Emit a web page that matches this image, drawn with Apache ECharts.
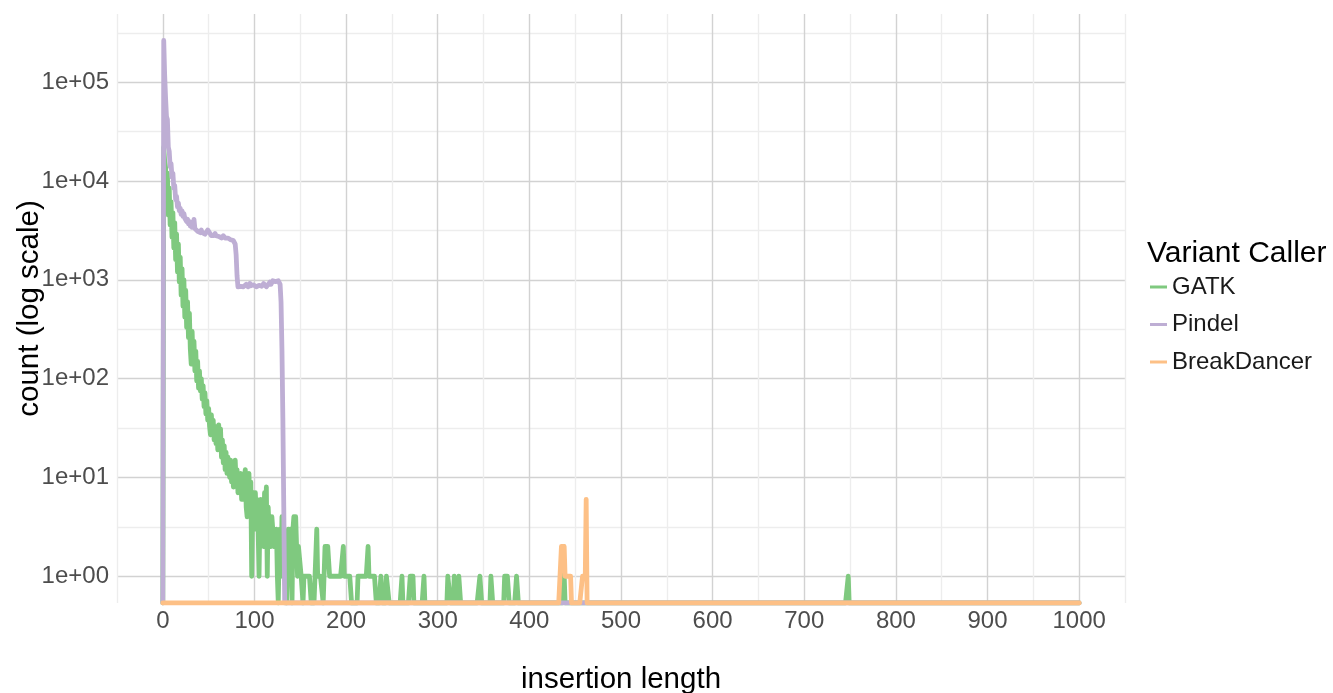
<!DOCTYPE html>
<html>
<head>
<meta charset="utf-8">
<title>insertion length</title>
<script src="https://cdn.jsdelivr.net/npm/echarts@6/dist/echarts.min.js"></script>
<style>
  html, body { margin: 0; padding: 0; background: #ffffff; }
  #chart { width: 1333px; height: 693px; }
</style>
</head>
<body>
<div id="chart"></div>
<script>
// ---- data ----
const seriesNames = ['GATK', 'Pindel', 'BreakDancer'];
const seriesColors = ['#7FC97F', '#BEAED4', '#FDC086'];
const xLast = 1000; // every series runs from length 0 to 1000

// GATK counts for insertion length 1..152
const gatkHead = [
  22000, 16000, 14000, 6000, 12000, 4500, 8500, 3600, 6200, 2700,
  4800, 2100, 3800, 1600, 2900, 1200, 2300, 950, 1700, 700,
  1300, 540, 1000, 420, 780, 330, 600, 260, 460, 200,
  140, 300, 150, 240, 120, 190, 95, 150, 80, 120,
  75, 100, 62, 85, 52, 72, 44, 60, 38, 50,
  33, 27, 43, 28, 38, 24, 33, 22, 30, 19,
  34, 20, 31, 16, 24, 14, 21, 12, 18, 11,
  16, 12, 10, 15, 9, 13, 8, 12, 15, 9,
  12, 7, 11, 7, 11, 6, 10, 6, 10, 12,
  5, 4, 8, 11, 5, 9, 1, 5, 7, 3,
  7, 4, 6, 3, 1, 4, 6, 3, 5, 2,
  7, 4, 8, 1, 5, 3, 4, 2, 4, 3,
  2, 3, 2, 3, 1, 0, 2, 3, 1, 4,
  3, 2, 1, 1, 0, 0, 3, 1, 3, 2,
  0, 3, 4, 2, 4, 2, 1, 2, 2, 2,
  1, 1
];
// GATK further out: [length, count], all other lengths are 0
const gatkTail = [
  [154, 1], [155, 1], [156, 1], [157, 1], [158, 1], [159, 1], [160, 1], [161, 1],
  [168, 3], [169, 1], [170, 1], [171, 1], [172, 1], [173, 1], [174, 1],
  [177, 2], [178, 2], [179, 2], [180, 2], [181, 2],
  [182, 1], [183, 1], [184, 1], [185, 1], [186, 1], [187, 1], [188, 1], [189, 1],
  [190, 1], [191, 1], [192, 1], [193, 1], [194, 1], [195, 1], [196, 1],
  [197, 2], [198, 1], [199, 1], [200, 1], [201, 1], [202, 1], [203, 1], [204, 1], [205, 1],
  [213, 1], [214, 1], [215, 1], [216, 1], [217, 1], [218, 1], [219, 1], [220, 1],
  [221, 1], [222, 1], [223, 1], [224, 2], [225, 1], [226, 1], [227, 1], [228, 1],
  [229, 1], [230, 1], [231, 1], [232, 1],
  [238, 1], [239, 1], [244, 1], [245, 1], [246, 1],
  [261, 1], [270, 1], [271, 1], [272, 1], [273, 1], [285, 1],
  [311, 1], [312, 1], [313, 1], [318, 1], [323, 1], [324, 1],
  [346, 1], [347, 1], [358, 1], [359, 1],
  [373, 1], [374, 1], [375, 1], [376, 1], [377, 1], [386, 1], [387, 1],
  [437, 2], [438, 2], [748, 1]
];

// Pindel counts for insertion length 1..133, zero after that
const pindelHead = [
  265000, 120000, 70000, 45000, 42000, 22000, 20000, 14000, 15000, 11000,
  12000, 8500, 9000, 6500, 7000, 5500, 6000, 5000, 5300, 4600,
  5000, 4400, 4700, 4200, 4300, 3900, 4100, 3700, 3900, 3500,
  3700, 3400, 3600, 4100, 3300, 3200, 3300, 3100, 3200, 3000,
  3000, 3200, 3000, 2900, 3100, 2900, 3000, 2950, 3200, 3300,
  3000, 2900, 2800, 2900, 2750, 2800, 2950, 2800, 2700, 2900,
  2750, 2700, 2800, 2650, 2700, 2800, 2750, 2650, 2700, 2600,
  2650, 2700, 2600, 2550, 2650, 2600, 2500, 2450, 2300, 1800,
  1100, 850, 820, 880, 860, 840, 870, 850, 880, 860,
  900, 870, 850, 880, 920, 870, 840, 860, 890, 900,
  870, 850, 830, 870, 880, 900, 870, 860, 890, 920,
  900, 880, 850, 870, 900, 920, 950, 900, 930, 980,
  950, 1000, 960, 990, 950, 980, 960, 900, 600, 200,
  40, 5, 0
];

// BreakDancer: [length, count], all other lengths are 0
const breakDancerPoints = [
  [435, 2], [436, 2], [437, 2], [438, 2],
  [439, 1], [440, 1], [441, 1], [442, 1], [443, 1], [444, 1], [445, 1],
  [458, 1], [459, 1], [460, 1], [461, 1], [462, 6]
];

// axis labels
const xTickValues = [0, 100, 200, 300, 400, 500, 600, 700, 800, 900, 1000];
const yDecades = [0, 1, 2, 3, 4, 5];
const yTickLabels = ['1e+00', '1e+01', '1e+02', '1e+03', '1e+04', '1e+05'];

// panel range in log10 units (ggplot adds 5% on each side)
const yMin = -0.271;
const yMax = 5.691;

function buildCounts(head, points) {
  const counts = new Array(xLast + 1).fill(0);
  head.forEach((c, i) => { counts[i + 1] = c; });
  points.forEach(p => { counts[p[0]] = p[1]; });
  return counts;
}

// zero counts go to -Inf on a log axis, ggplot draws them on the panel edge
function toLogPoints(counts) {
  return counts.map((c, x) => [x, c > 0 ? Math.log10(c) : yMin]);
}

const seriesCounts = [
  buildCounts(gatkHead, gatkTail),
  buildCounts(pindelHead, []),
  buildCounts([], breakDancerPoints)
];

const font = '"Liberation Sans", Arial, Helvetica, sans-serif';

const chart = echarts.init(document.getElementById('chart'));

const option = {
  animation: false,
  backgroundColor: '#ffffff',
  textStyle: { fontFamily: font },
  title: {
    text: 'Variant Caller',
    left: 1147,
    top: 238.5,
    padding: 0,
    textStyle: { fontSize: 30, fontWeight: 'normal', color: '#000000', fontFamily: font }
  },
  legend: {
    orient: 'vertical',
    left: 1150,
    top: 275,
    padding: 0,
    itemGap: 13.5,
    itemWidth: 17,
    itemHeight: 3,
    icon: 'rect',
    data: seriesNames,
    textStyle: { fontSize: 24, color: '#1a1a1a', lineHeight: 24, fontFamily: font }
  },
  grid: {
    left: 117,
    right: 208,
    top: 14,
    bottom: 90,
    containLabel: false,
    outerBoundsMode: 'none'
  },
  xAxis: {
    type: 'value',
    min: -50,
    max: 1050,
    interval: 50,
    name: 'insertion length',
    nameLocation: 'middle',
    nameGap: 62,
    nameMoveOverlap: false,
    nameTextStyle: { fontSize: 29.5, color: '#000000', fontFamily: font },
    axisLine: { show: false },
    axisTick: { show: false },
    axisLabel: {
      margin: 6,
      fontSize: 24,
      color: '#4d4d4d',
      fontFamily: font,
      formatter: function (v) {
        return xTickValues.indexOf(v) >= 0 ? String(v) : '';
      }
    },
    splitLine: {
      show: true,
      // ticks start at -50: minor, major, minor, ...
      lineStyle: { color: ['#ededed', '#d2d2d2'], width: 1.4 }
    }
  },
  yAxis: {
    type: 'value',
    min: yMin,
    max: yMax,
    splitNumber: 12,
    name: 'count (log scale)',
    nameLocation: 'middle',
    nameGap: 72,
    nameMoveOverlap: false,
    nameTextStyle: { fontSize: 29.5, color: '#000000', fontFamily: font },
    axisLine: { show: false },
    axisTick: { show: false },
    axisLabel: {
      margin: 8,
      fontSize: 24,
      color: '#4d4d4d',
      fontFamily: font,
      formatter: function (v) {
        for (let i = 0; i < yDecades.length; i++) {
          if (Math.abs(v - yDecades[i]) < 1e-6) return yTickLabels[i];
        }
        return '';
      }
    },
    splitLine: {
      show: true,
      showMinLine: false,
      showMaxLine: false,
      // first drawn line is 1e+00, then half decades alternate
      lineStyle: { color: ['#d2d2d2', '#ededed'], width: 1.4 }
    }
  },
  series: seriesNames.map((name, i) => ({
    name: name,
    type: 'line',
    data: toLogPoints(seriesCounts[i]),
    showSymbol: false,
    symbol: 'none',
    silent: true,
    clip: true,
    color: seriesColors[i],
    lineStyle: { width: 4.8, color: seriesColors[i], cap: 'round', join: 'round' },
    z: 2 + i
  }))
};

chart.setOption(option);
</script>
</body>
</html>
